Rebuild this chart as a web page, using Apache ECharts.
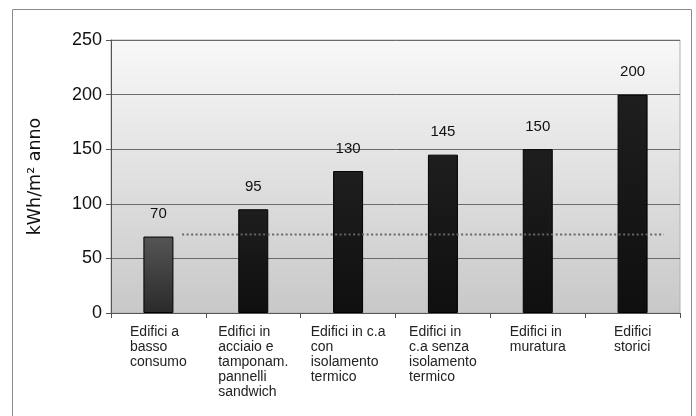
<!DOCTYPE html>
<html>
<head>
<meta charset="utf-8">
<script src="https://cdn.jsdelivr.net/npm/echarts@6/dist/echarts.min.js"></script>
<style>
html,body{margin:0;padding:0;background:#fff;}
#chart{width:696px;height:416px;}
</style>
</head>
<body>
<div id="chart"></div>
<script>
// ---- data ----
var categories = [
  'Edifici a\nbasso\nconsumo',
  'Edifici in\nacciaio e\ntamponam.\npannelli\nsandwich',
  'Edifici in c.a\ncon\nisolamento\ntermico',
  'Edifici in\nc.a senza\nisolamento\ntermico',
  'Edifici in\nmuratura',
  'Edifici\nstorici'
];
var values = [70, 95, 130, 145, 150, 200];
var referenceValue = 72;
var referenceSpan = [0.75, 5.83]; // in category units (0..6)
var yTicks = { min: 0, max: 250, interval: 50 };
var yAxisName = 'kWh/m\u00B2 anno';

// ---- chart ----
var chart = echarts.init(document.getElementById('chart'), null, { renderer: 'canvas' });

var barData = values.map(function (v, i) {
  var grad = i === 0
    ? new echarts.graphic.LinearGradient(0, 0, 0, 1, [{ offset: 0, color: '#555555' }, { offset: 1, color: '#2a2a2a' }])
    : new echarts.graphic.LinearGradient(0, 0, 0, 1, [{ offset: 0, color: '#1e1e1e' }, { offset: 1, color: '#0f0f0f' }]);
  return { value: v, itemStyle: { color: grad } };
});

var option = {
  animation: false,
  backgroundColor: '#ffffff',
  graphic: [{
    type: 'rect',
    z: -10,
    shape: { x: 12.5, y: 9.5, width: 679, height: 420 },
    style: { fill: '#ffffff', stroke: '#8a8a8a', lineWidth: 1 }
  }],
  grid: {
    left: 111, right: 16, top: 40, bottom: 103,
    show: true,
    borderColor: '#b0b0b0',
    borderWidth: 1,
    backgroundColor: new echarts.graphic.LinearGradient(0, 0, 0, 1, [
      { offset: 0, color: '#f8f8f8' },
      { offset: 1, color: '#c8c8c8' }
    ])
  },
  xAxis: [{
    type: 'category',
    data: categories,
    axisLine: { show: true, lineStyle: { color: '#555555', width: 1 } },
    axisTick: { show: true, length: 5, lineStyle: { color: '#555555' } },
    axisLabel: {
      interval: 0,
      margin: 12,
      formatter: function (val) {
        return val.split('\n').map(function (l) { return '{a|' + l + '}'; }).join('\n');
      },
      rich: {
        a: {
          fontFamily: 'Liberation Sans, Arial, sans-serif',
          fontSize: 14,
          color: '#222222',
          lineHeight: 15,
          align: 'left'
        }
      }
    },
    splitLine: { show: false }
  }, {
    type: 'value',
    min: 0, max: 6,
    show: false
  }],
  yAxis: {
    type: 'value',
    min: yTicks.min, max: yTicks.max, interval: yTicks.interval,
    name: yAxisName,
    nameLocation: 'middle',
    nameGap: 67,
    nameTextStyle: { fontFamily: 'DejaVu Sans, sans-serif', fontSize: 17.5, color: '#111111' },
    axisLine: { show: true, lineStyle: { color: '#555555' } },
    axisTick: { show: true, length: 5, lineStyle: { color: '#555555' } },
    axisLabel: { fontFamily: 'Liberation Sans, Arial, sans-serif', fontSize: 18, color: '#111111', margin: 9 },
    splitLine: { show: true, lineStyle: { color: '#6a6a6a', width: 1 } }
  },
  series: [{
    type: 'bar',
    xAxisIndex: 0,
    data: barData,
    barWidth: 30,
    itemStyle: { borderColor: '#000000', borderWidth: 1 },
    label: {
      show: true,
      position: 'top',
      distance: 15,
      fontFamily: 'Liberation Sans, Arial, sans-serif',
      fontSize: 15,
      color: '#111111'
    },
    z: 2
  }, {
    type: 'line',
    xAxisIndex: 1,
    data: [[referenceSpan[0], referenceValue], [referenceSpan[1], referenceValue]],
    symbol: 'none',
    lineStyle: { color: '#666666', width: 2, type: [2, 2.5] },
    z: 3,
    silent: true
  }]
};
chart.setOption(option);
</script>
</body>
</html>
